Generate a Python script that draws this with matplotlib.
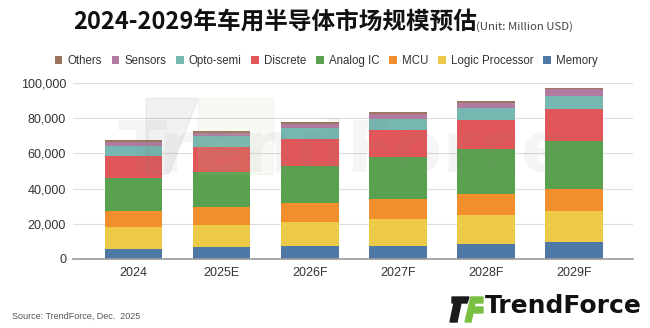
import matplotlib.pyplot as plt
import numpy as np
from matplotlib.patches import Polygon, Rectangle

plt.rcParams['font.family'] = ['Liberation Sans', 'Noto Sans CJK SC']

# ----------------------------------------------------------------------------------------------------------------------
years = ['2024', '2025E', '2026F', '2027F', '2028F', '2029F']

# segment values, bottom to top (Million USD)
memory = [5900, 6700, 7100, 7400, 8400, 9500]
logic_processor = [12000, 12500, 13700, 15400, 16500, 17900]
mcu = [9300, 10500, 11000, 11100, 12000, 12400]
analog_ic = [18600, 19800, 21300, 23800, 25500, 27200]
discrete = [12700, 14400, 15200, 15400, 16600, 18300]
opto_semi = [5700, 5700, 5900, 6600, 7000, 7200]
sensors = [2100, 2000, 2700, 2700, 2900, 3800]
others = [1400, 1300, 1100, 1300, 1100, 600]

series = [('Memory', memory, '#4e79a7'),
          ('Logic Processor', logic_processor, '#edc948'),
          ('MCU', mcu, '#f28e2b'),
          ('Analog IC', analog_ic, '#59a14f'),
          ('Discrete', discrete, '#e15759'),
          ('Opto-semi', opto_semi, '#76b7b2'),
          ('Sensors', sensors, '#b07aa1'),
          ('Others', others, '#9c755f')]

W, H = 650, 328


def px(pts):
    """ Pixel positions (from top-left) to figure fractions.
    """
    return [(u / W, 1 - v / H) for u, v in pts]


# ----------------------------------------------------------------------------------------------------------------------
fig = plt.figure(figsize=(W / 100, H / 100), dpi=100)
ax = fig.add_axes([0.1123, 0.2104, 0.8617, 0.5366])

x = np.arange(len(years))
bottom = np.zeros(len(years))
handles = []
for name, vals, col in series:
    h = ax.bar(x, vals, 0.65, bottom=bottom, color=col, label=name, zorder=2)
    handles.append(h)
    bottom += np.array(vals)

ax.set_xlim(-0.69, 5.67)
ax.set_ylim(0, 100000)
ax.set_yticks(np.arange(0, 100001, 20000))
ax.set_yticklabels([f'{v:,}' for v in range(0, 100001, 20000)])
ax.set_xticks(x)
ax.set_xticklabels(years)
ax.tick_params(axis='both', length=0, labelsize=9, colors='#333333')
ax.tick_params(axis='y', pad=5)
ax.tick_params(axis='x', pad=6)
ax.yaxis.grid(True, color='#dddddd', lw=0.8, zorder=0)
for s in ['top', 'right', 'left']:
    ax.spines[s].set_visible(False)
ax.spines['bottom'].set_color('#9a9a9a')
ax.spines['bottom'].set_linewidth(1.2)

leg = fig.legend(handles[::-1], [s[0] for s in series][::-1], loc='center', ncol=8,
                 bbox_to_anchor=(0.502, 0.814), frameon=False, fontsize=8.3,
                 handlelength=0.65, handleheight=0.65, handletextpad=0.45, columnspacing=0.85,
                 borderpad=0)
for t in leg.get_texts():
    t.set_color('#333333')

# title
fig.text(0.112, 0.933, '2024-2029年车用半导体市场规模预估', fontsize=17, fontweight='bold',
         ha='left', va='center', color='#111111', family=['Noto Sans CJK SC', 'DejaVu Sans'])
fig.text(0.733, 0.918, '(Unit: Million USD)', fontsize=8.2, ha='left', va='center', color='#444444',
         family=['Noto Sans CJK SC', 'DejaVu Sans'])

# watermark
fig.text(0.53, 0.535, 'TrendForce', fontsize=52, fontweight='bold', color='#888888',
         alpha=0.08, ha='center', va='center', zorder=5, family='DejaVu Sans')
fig.patches.append(Polygon([[0.225, 0.70], [0.305, 0.70], [0.26, 0.47], [0.225, 0.47]], closed=True,
                           transform=fig.transFigure, color='#777777', alpha=0.1, zorder=5))
fig.patches.append(Rectangle((0.305, 0.47), 0.115, 0.23, transform=fig.transFigure,
                             color='#a8d08d', alpha=0.1, zorder=5))

# footer: source note and logo
fig.text(0.018, 0.035, 'Source: TrendForce, Dec.  2025', fontsize=6.5, color='#555555', ha='left', va='center')
icon_black = px([(452, 297), (469, 297), (467, 303), (461, 303), (457, 322), (450, 322),
                 (454, 303), (452, 303)])
icon_green = px([(471, 297), (483, 297), (483, 303), (475, 303), (474, 307), (483, 307),
                 (483, 313), (473, 313), (471, 322), (465, 322)])
fig.patches.append(Polygon(icon_black, closed=True, transform=fig.transFigure, color='#1a1a1a'))
fig.patches.append(Polygon(icon_green, closed=True, transform=fig.transFigure, color='#7ac143'))
fig.text(0.746, 0.066, 'TrendForce', fontsize=18, fontweight='bold', color='#111111',
         ha='left', va='center', family='DejaVu Sans')

fig.savefig('out.png', dpi=100)
